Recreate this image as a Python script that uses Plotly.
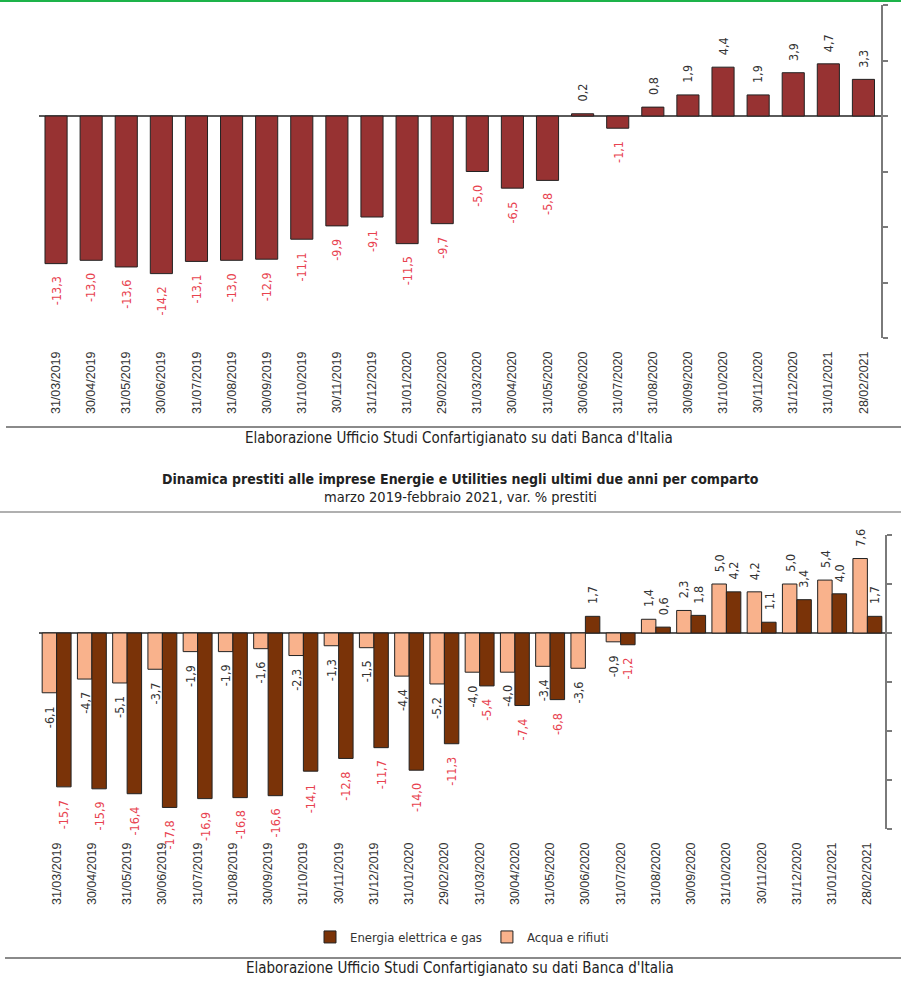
import plotly.graph_objects as go

# Month-end dates, March 2019 - February 2021
dates = [
    "31/03/2019", "30/04/2019", "31/05/2019", "30/06/2019", "31/07/2019", "31/08/2019",
    "30/09/2019", "31/10/2019", "30/11/2019", "31/12/2019", "31/01/2020", "29/02/2020",
    "31/03/2020", "30/04/2020", "31/05/2020", "30/06/2020", "31/07/2020", "31/08/2020",
    "30/09/2020", "31/10/2020", "30/11/2020", "31/12/2020", "31/01/2021", "28/02/2021",
]

# Energy & Utilities loans, % change (total)
totale = [-13.3, -13.0, -13.6, -14.2, -13.1, -13.0, -12.9, -11.1, -9.9, -9.1, -11.5, -9.7,
          -5.0, -6.5, -5.8, 0.2, -1.1, 0.8, 1.9, 4.4, 1.9, 3.9, 4.7, 3.3]

# By sector
energia = [-15.7, -15.9, -16.4, -17.8, -16.9, -16.8, -16.6, -14.1, -12.8, -11.7, -14.0, -11.3,
           -5.4, -7.4, -6.8, 1.7, -1.2, 0.6, 1.8, 4.2, 1.1, 3.4, 4.0, 1.7]
acqua = [-6.1, -4.7, -5.1, -3.7, -1.9, -1.9, -1.6, -2.3, -1.3, -1.5, -4.4, -5.2,
         -4.0, -4.0, -3.4, -3.6, -0.9, 1.4, 2.3, 5.0, 4.2, 5.0, 5.4, 7.6]

title = "Dinamica prestiti alle imprese Energie e Utilities negli ultimi due anni per comparto"
subtitle = "marzo 2019-febbraio 2021, var. % prestiti"
source = "Elaborazione Ufficio Studi Confartigianato su dati Banca d'Italia"
yticks = [-20, -15, -10, -5, 0, 5, 10]

W, H = 901, 983
FONT = "Liberation Sans, Arial, sans-serif"
NARROW = "DejaVu Sans Condensed, Liberation Sans, sans-serif"
RED_TXT = "#e8434f"
DARK_TXT = "#333333"
C_TOT = "#973232"
C_EN = "#7a3308"
C_AC = "#f9b28c"


def px(x):
    return x / W


def py(y):
    return 1 - y / H


def fmt(v):
    return f"{v:.1f}".replace(".", ",")


fig = go.Figure()

fig.add_trace(go.Bar(
    x=dates, y=totale, width=0.63,
    marker=dict(color=C_TOT, line=dict(color="#222", width=1)),
    xaxis="x", yaxis="y", showlegend=False, hoverinfo="x+y",
))
fig.add_trace(go.Bar(
    x=dates, y=acqua, name="Acqua e rifiuti", legendrank=2,
    marker=dict(color=C_AC, line=dict(color="#222", width=1)),
    xaxis="x2", yaxis="y2", offsetgroup="a",
))
fig.add_trace(go.Bar(
    x=dates, y=energia, name="Energia elettrica e gas", legendrank=1,
    marker=dict(color=C_EN, line=dict(color="#222", width=1)),
    xaxis="x2", yaxis="y2", offsetgroup="b",
))

annotations = []


def value_label(xref, yref, xpos, v, neg_color):
    annotations.append(dict(
        xref=xref, yref=yref, x=xpos, y=v, text=fmt(v), showarrow=False,
        textangle=-90, yanchor="top" if v < 0 else "bottom",
        yshift=-11 if v < 0 else 10,
        font=dict(family=NARROW, size=12.5, color=neg_color if v < 0 else DARK_TXT),
    ))


for i, v in enumerate(totale):
    value_label("x", "y", i, v, RED_TXT)

GAP2 = 0.18
off = (1 - GAP2) / 4
for i, v in enumerate(acqua):
    value_label("x2", "y2", i - off, v, DARK_TXT)
for i, v in enumerate(energia):
    value_label("x2", "y2", i + off, v, RED_TXT)


def text_line(y, text, size=15, bold=False, x=460):
    annotations.append(dict(
        xref="paper", yref="paper", x=px(x), y=py(y), text=f"<b>{text}</b>" if bold else text,
        showarrow=False, xanchor="center", yanchor="middle",
        font=dict(family=NARROW, size=size, color="#222"),
    ))


text_line(438, source, x=459)
text_line(479, title, size=14, bold=True)
text_line(497, subtitle, size=14.5)
text_line(968, source)

shapes = [
    dict(type="line", xref="paper", yref="paper", x0=0, x1=1, y0=py(1), y1=py(1),
         line=dict(color="#1db34a", width=2)),
    dict(type="line", xref="paper", yref="paper", x0=px(6), x1=1, y0=py(427), y1=py(427),
         line=dict(color="#8a8a8a", width=2)),
    dict(type="line", xref="paper", yref="paper", x0=0, x1=1, y0=py(512), y1=py(512),
         line=dict(color="#b0b0b0", width=2)),
    dict(type="line", xref="paper", yref="paper", x0=px(5), x1=1, y0=py(958), y1=py(958),
         line=dict(color="#8a8a8a", width=2)),
]

xaxis_common = dict(
    type="category", showline=False, ticks="", tickangle=-90, showgrid=False,
    zeroline=False, ticklabelstandoff=10, automargin=False,
    tickfont=dict(family=FONT, size=12.5, color=DARK_TXT),
)
yaxis_common = dict(
    range=[-20, 10], side="right", showline=True, linecolor="#7a7a7a", linewidth=2,
    ticks="outside", ticklen=5, tickcolor="#7a7a7a", tickwidth=1.5, tickvals=yticks,
    showticklabels=False, showgrid=False, zeroline=True, zerolinecolor="#5a5a5a",
    zerolinewidth=1.5, automargin=False,
)

fig.update_layout(
    width=W, height=H,
    margin=dict(l=0, r=0, t=0, b=0),
    paper_bgcolor="white", plot_bgcolor="white",
    barmode="group", bargap=GAP2,
    font=dict(family=FONT, color=DARK_TXT),
    xaxis=dict(domain=[px(38.5), px(881)], anchor="y", **xaxis_common),
    yaxis=dict(domain=[py(338), py(5)], anchor="x", **yaxis_common),
    xaxis2=dict(domain=[px(39), px(885)], anchor="y2", **xaxis_common),
    yaxis2=dict(domain=[py(829), py(535)], anchor="x2", **yaxis_common),
    legend=dict(orientation="h", x=px(462), xanchor="center", y=py(937), yanchor="middle",
                font=dict(family=NARROW, size=13, color=DARK_TXT), itemwidth=30,
                bgcolor="rgba(0,0,0,0)"),
    annotations=annotations,
    shapes=shapes,
)

fig.write_html("out.html")
